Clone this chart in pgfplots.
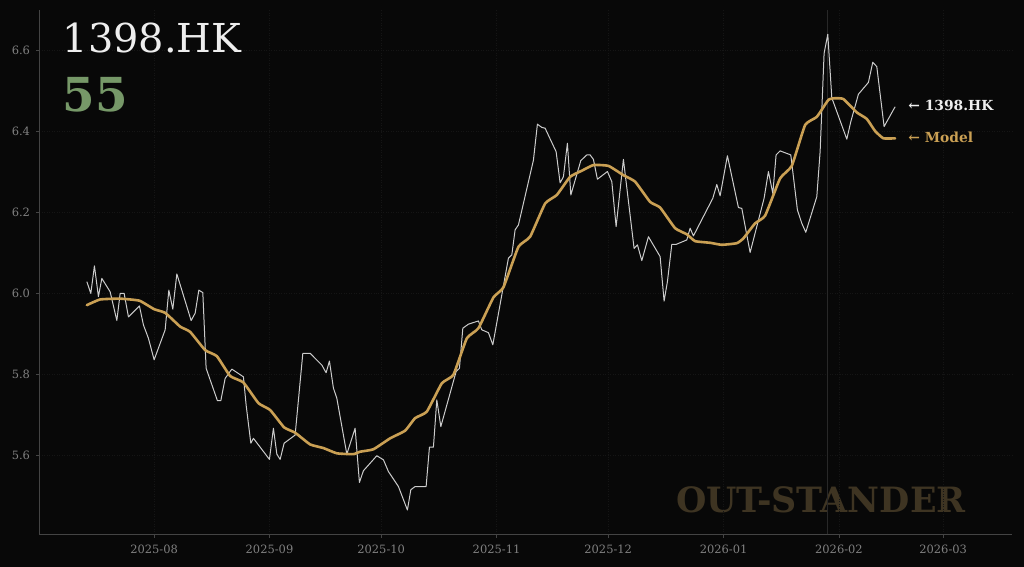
\documentclass[border=0pt]{standalone}
\usepackage{fontspec}
\setmainfont{DejaVu Serif}
\usepackage{pgfplots}
\pgfplotsset{compat=1.18}
\definecolor{bg}{RGB}{8,8,8}
\definecolor{spine}{RGB}{68,68,68}
\definecolor{ticklab}{RGB}{128,128,128}
\definecolor{gridc}{RGB}{21,21,21}
\definecolor{price}{RGB}{204,204,204}
\definecolor{gold}{RGB}{202,160,84}
\definecolor{green55}{RGB}{118,152,104}
\definecolor{wm}{RGB}{62,52,34}
\definecolor{vline}{RGB}{40,40,40}
\definecolor{titlec}{RGB}{238,238,238}
\begin{document}
\begin{tikzpicture}[x=1bp,y=1bp]
\path[use as bounding box, fill=bg] (-39.5,-32.7) rectangle (984.5,534.3);
\node[anchor=base west, inner sep=0pt, text=wm, font=\bfseries\fontsize{35}{40}\selectfont] at (636.5,21.6) {OUT-STANDER};
\begin{axis}[at={(0,0)}, anchor=south west, scale only axis,
  width=972.5bp, height=524.3bp,
  xmin=-30.8, xmax=230.5, ymin=5.404, ymax=6.699,
  axis x line*=bottom, axis y line*=left,
  axis line style={spine, line width=0.8bp, -},
  xtick={0,31,61,92,122,153,184,212},
  xticklabels={2025-08,2025-09,2025-10,2025-11,2025-12,2026-01,2026-02,2026-03},
  ytick={5.6,5.8,6.0,6.2,6.4,6.6},
  yticklabels={5.6,5.8,6.0,6.2,6.4,6.6},
  tick align=outside, major tick length=3.5bp,
  tick style={spine, line width=0.8bp},
  ticklabel style={font=\fontsize{11.5}{13}\selectfont, text=ticklab},
  xticklabel style={yshift=-3.5bp},
  yticklabel style={xshift=-2.5bp},
  /pgf/number format/assume math mode=true,
  grid=major, major grid style={gridc, line width=0.5bp, dotted},
  clip=false,
]
\addplot[vline, line width=0.8bp] coordinates {(181,5.404) (181,6.699)};
\addplot[price, line width=1.0bp, line join=round] table {
x y
-18.08 6.028
-17.01 5.999
-16.04 6.067
-14.97 5.991
-14.05 6.036
-11.82 6.003
-10.02 5.932
-9.13 5.999
-8.06 5.999
-6.90 5.941
-3.95 5.968
-2.87 5.921
-1.53 5.888
0.00 5.835
2.96 5.909
3.95 6.007
5.02 5.960
6.10 6.047
7.44 6.007
9.94 5.932
11.02 5.950
12.01 6.007
13.08 6.001
13.97 5.814
17.01 5.734
17.92 5.734
19.08 5.789
20.88 5.812
23.99 5.793
24.72 5.723
25.98 5.629
26.68 5.641
30.98 5.589
32.05 5.666
32.97 5.602
33.85 5.589
34.93 5.629
37.88 5.649
39.95 5.851
41.91 5.851
45.06 5.822
46.21 5.803
47.10 5.832
48.17 5.765
49.09 5.740
51.77 5.602
54.00 5.666
55.16 5.532
56.23 5.561
59.83 5.598
61.61 5.588
62.95 5.559
65.64 5.522
68.05 5.464
68.97 5.514
70.12 5.522
73.08 5.522
73.97 5.619
75.04 5.619
75.95 5.736
77.03 5.670
81.14 5.806
82.03 5.814
82.94 5.913
84.44 5.923
87.13 5.931
88.04 5.909
89.82 5.902
91.00 5.872
95.19 6.086
96.10 6.094
96.99 6.156
97.88 6.168
101.91 6.328
102.98 6.417
104.16 6.409
105.05 6.407
108.01 6.349
109.08 6.272
109.97 6.287
111.04 6.370
111.96 6.242
114.64 6.327
116.25 6.341
117.14 6.341
118.03 6.330
119.10 6.281
121.79 6.300
122.97 6.275
124.13 6.164
126.09 6.330
128.96 6.110
129.85 6.119
131.03 6.080
132.81 6.139
135.95 6.090
137.02 5.980
137.91 6.028
139.09 6.120
140.25 6.120
143.12 6.131
144.01 6.160
144.90 6.141
150.11 6.234
151.18 6.268
152.07 6.240
154.03 6.339
156.99 6.211
157.90 6.209
160.13 6.100
163.89 6.234
165.05 6.300
166.23 6.246
167.11 6.341
168.19 6.351
171.06 6.341
172.84 6.205
174.02 6.172
175.09 6.150
178.05 6.238
178.94 6.349
180.01 6.592
181.00 6.639
182.08 6.482
186.11 6.380
187.18 6.423
189.23 6.491
191.91 6.520
193.09 6.570
194.17 6.559
196.13 6.411
199.09 6.460
};
\addplot[gold, line width=2.6bp, line join=round, line cap=round, smooth, tension=0.25] table {
x y
-18.08 5.970
-14.51 5.984
-9.13 5.986
-3.95 5.981
0.00 5.960
2.96 5.951
6.99 5.917
9.67 5.904
13.70 5.859
16.85 5.844
20.42 5.795
23.99 5.779
28.02 5.728
31.17 5.711
34.93 5.668
37.88 5.655
41.91 5.626
45.49 5.617
49.09 5.604
53.55 5.602
55.35 5.608
58.92 5.614
63.41 5.641
67.44 5.660
70.12 5.691
73.27 5.707
77.30 5.777
80.41 5.798
84.01 5.888
87.13 5.913
91.16 5.989
93.85 6.014
97.88 6.114
101.02 6.139
105.05 6.221
108.19 6.242
111.77 6.287
114.91 6.302
118.03 6.316
122.06 6.314
126.09 6.291
129.23 6.275
133.26 6.225
135.95 6.211
139.98 6.160
143.12 6.145
145.35 6.128
149.38 6.124
152.53 6.119
156.56 6.123
158.33 6.135
161.47 6.172
164.16 6.191
168.19 6.283
171.33 6.314
174.91 6.415
178.05 6.435
181.17 6.477
182.97 6.481
185.20 6.479
188.80 6.446
191.48 6.430
193.71 6.400
195.94 6.382
199.09 6.382
};
\node[anchor=west, inner sep=0pt, text=titlec, font=\bfseries\fontsize{13.9}{16}\selectfont] at (axis cs:202.6,6.462) {← 1398.HK};
\node[anchor=west, inner sep=0pt, text=gold, font=\bfseries\fontsize{13.9}{16}\selectfont] at (axis cs:202.6,6.384) {← Model};
\end{axis}
\node[anchor=base west, inner sep=0pt, text=titlec, font=\fontsize{40}{46}\selectfont] at (23.2,481.6) {1398.HK};
\node[anchor=base west, inner sep=0pt, text=green55, font=\bfseries\fontsize{47}{54}\selectfont] at (23.2,422.6) {55};
\end{tikzpicture}
\end{document}
